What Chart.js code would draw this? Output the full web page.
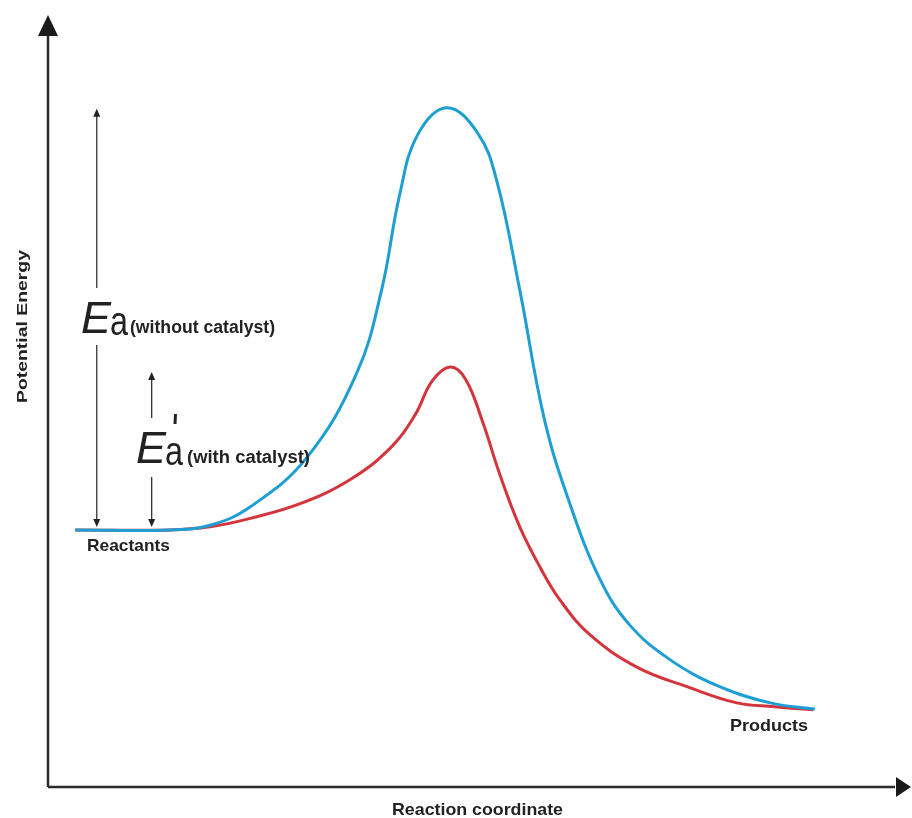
<!DOCTYPE html>
<html>
<head>
<meta charset="utf-8">
<script src="https://cdn.jsdelivr.net/npm/chart.js@4.4.1/dist/chart.umd.min.js"></script>
<style>
  body { margin: 0; background: #fff; }
  canvas { display: block; }
</style>
</head>
<body>
<canvas id="energyChart" width="912" height="818"></canvas>
<script>
// reaction coordinate (0-100) and potential energy (0-100)
const uncatalysedX = [3.3, 14.3, 19.0, 23.7, 30.3, 36.1, 39.0, 41.1, 43.2, 46.6, 50.2, 52.4, 55.1, 58.0, 61.0, 64.5, 67.9, 72.6, 78.4, 84.3, 89.5];
const uncatalysedY = [33.3, 33.3, 33.9, 36.3, 42.7, 53.6, 64.4, 76.7, 84.5, 88.0, 84.7, 78.6, 64.4, 47.5, 36.5, 26.8, 21.0, 16.5, 13.0, 10.9, 10.1];

const catalysedX = [3.3, 14.3, 19.0, 23.7, 29.5, 35.3, 40.0, 42.9, 44.9, 47.0, 48.8, 50.8, 52.8, 55.1, 57.5, 59.8, 63.3, 68.8, 74.6, 80.4, 84.8, 89.3];
const catalysedY = [33.3, 33.3, 33.7, 34.8, 36.7, 39.8, 43.9, 48.2, 52.6, 54.4, 52.8, 47.2, 40.4, 33.7, 28.4, 24.2, 19.7, 15.5, 13.0, 10.9, 10.4, 10.0];

const reactantsLevel = 33.3;

const toPoints = (xs, ys) => xs.map((x, i) => ({ x: x, y: ys[i] }));

const FONT = "'Liberation Sans', Arial, sans-serif";
const INK = '#222';

// draw text squeezed/stretched to a given width
function fitText(ctx, text, x, y, width) {
    const w = ctx.measureText(text).width;
    ctx.save();
    ctx.translate(x, y);
    ctx.scale(width / w, 1);
    ctx.fillText(text, 0, 0);
    ctx.restore();
}

function arrowHead(ctx, x, y, dx, dy, len, half) {
    // tip at (x, y), pointing along (dx, dy)
    const px = -dy, py = dx;
    ctx.beginPath();
    ctx.moveTo(x, y);
    ctx.lineTo(x - dx * len + px * half, y - dy * len + py * half);
    ctx.lineTo(x - dx * len - px * half, y - dy * len - py * half);
    ctx.closePath();
    ctx.fill();
}

function line(ctx, x1, y1, x2, y2) {
    ctx.beginPath();
    ctx.moveTo(x1, y1);
    ctx.lineTo(x2, y2);
    ctx.stroke();
}

const diagramPlugin = {
    id: 'diagram',
    beforeDatasetsDraw(chart) {
        const ctx = chart.ctx;
        const area = chart.chartArea;
        const ox = area.left + 1;
        const oy = area.bottom;
        ctx.save();
        ctx.strokeStyle = '#2a2a2a';
        ctx.fillStyle = '#1a1a1a';
        ctx.lineWidth = 2.5;
        // y axis
        line(ctx, ox, oy, ox, area.top + 18);
        arrowHead(ctx, ox, area.top, 0, -1, 21, 10);
        // x axis
        line(ctx, ox, oy, area.right - 10, oy);
        arrowHead(ctx, area.right + 6, oy, 1, 0, 15, 10);
        ctx.restore();
    },
    afterDraw(chart) {
        const ctx = chart.ctx;
        const xs = chart.scales.x;
        const ys = chart.scales.y;
        const base = ys.getPixelForValue(reactantsLevel);
        const bigTop = ys.getPixelForValue(Math.max(...uncatalysedY));
        const smallTop = ys.getPixelForValue(Math.max(...catalysedY));
        const bigX = xs.getPixelForValue(5.8);
        const smallX = xs.getPixelForValue(12.2);

        ctx.save();
        ctx.strokeStyle = '#333';
        ctx.fillStyle = '#222';
        ctx.lineWidth = 1.3;
        // Ea arrow (without catalyst)
        line(ctx, bigX, bigTop + 4, bigX, 288);
        line(ctx, bigX, 345, bigX, base - 6);
        arrowHead(ctx, bigX, bigTop + 1, 0, -1, 8, 3.5);
        arrowHead(ctx, bigX, base - 3, 0, 1, 8, 3.5);
        // Ea' arrow (with catalyst)
        line(ctx, smallX, smallTop + 8, smallX, 418);
        line(ctx, smallX, 477, smallX, base - 6);
        arrowHead(ctx, smallX, smallTop + 5, 0, -1, 8, 3.5);
        arrowHead(ctx, smallX, base - 3, 0, 1, 8, 3.5);

        ctx.fillStyle = INK;
        ctx.textAlign = 'left';
        ctx.textBaseline = 'alphabetic';

        // E a (without catalyst)
        ctx.font = 'italic 44px ' + FONT;
        fitText(ctx, 'E', 81, 333, 30);
        ctx.font = '40px ' + FONT;
        fitText(ctx, 'a', 110, 335, 18);
        ctx.font = 'bold 18px ' + FONT;
        fitText(ctx, '(without catalyst)', 130, 333, 145);

        // E'a (with catalyst)
        ctx.font = 'italic 44px ' + FONT;
        fitText(ctx, 'E', 136, 463, 30);
        ctx.font = '40px ' + FONT;
        fitText(ctx, 'a', 165, 465, 18);
        ctx.font = 'bold 18px ' + FONT;
        fitText(ctx, '(with catalyst)', 187, 463, 123);
        ctx.lineWidth = 3;
        ctx.strokeStyle = INK;
        line(ctx, 175.5, 414, 175, 424);

        // state labels
        ctx.font = 'bold 17px ' + FONT;
        fitText(ctx, 'Reactants', 87, 551, 83);
        fitText(ctx, 'Products', 730, 731, 78);
        fitText(ctx, 'Reaction coordinate', 392, 815, 171);

        // axis title
        ctx.save();
        ctx.translate(27, 403);
        ctx.rotate(-Math.PI / 2);
        ctx.font = 'bold 15px ' + FONT;
        fitText(ctx, 'Potential Energy', 0, 0, 153);
        ctx.restore();

        ctx.restore();
    }
};

new Chart(document.getElementById('energyChart'), {
    type: 'line',
    data: {
        datasets: [{
            label: 'Without catalyst',
            data: toPoints(uncatalysedX, uncatalysedY),
            borderColor: '#1e9fd3',
            borderWidth: 3,
            pointRadius: 0,
            tension: 0.4,
            fill: false
        }, {
            label: 'With catalyst',
            data: toPoints(catalysedX, catalysedY),
            borderColor: '#d4353c',
            borderWidth: 3,
            pointRadius: 0,
            tension: 0.4,
            fill: false
        }]
    },
    options: {
        responsive: false,
        animation: false,
        layout: {
            padding: { left: 47, right: 7, top: 15, bottom: 31 }
        },
        scales: {
            x: { type: 'linear', min: 0, max: 100, display: false },
            y: { type: 'linear', min: 0, max: 100, display: false }
        },
        plugins: {
            legend: { display: false },
            tooltip: { enabled: false }
        }
    },
    plugins: [diagramPlugin]
});
</script>
</body>
</html>
